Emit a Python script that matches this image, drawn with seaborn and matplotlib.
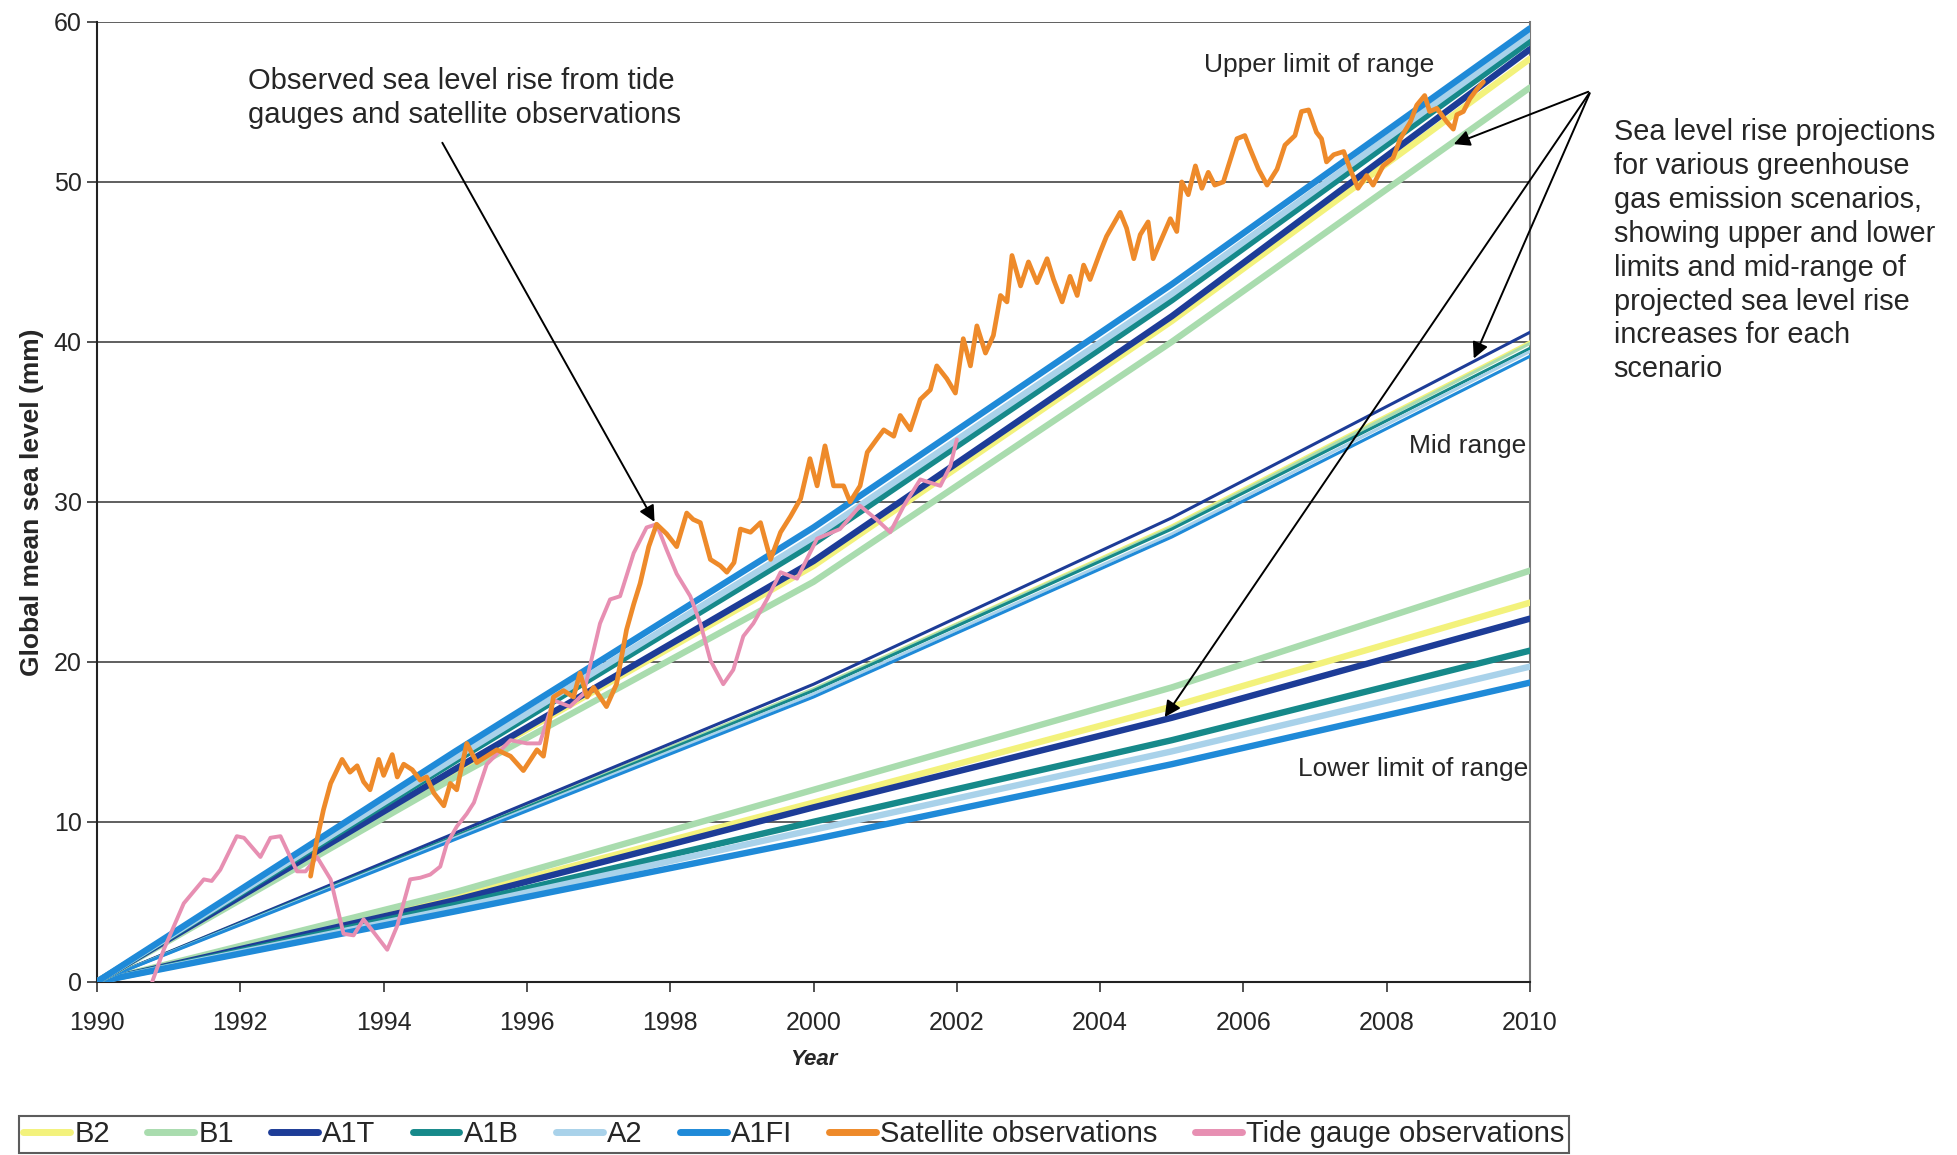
"""
Global mean sea level: observations vs. scenario projections (upper / mid / lower range)
"""

import matplotlib
matplotlib.use("Agg")
import matplotlib.pyplot as plt
from matplotlib.lines import Line2D
import seaborn as sns
import pandas as pd

# ---- projection data (mm), read at 5-year steps ----
proj_years = [1990, 1995, 2000, 2005, 2010]
scenarios = ["B2", "B1", "A1T", "A1B", "A2", "A1FI"]

upper = {
    "B2":   [0, 13.2, 26.0, 41.3, 57.7],
    "B1":   [0, 12.8, 25.0, 40.0, 55.9],
    "A1T":  [0, 13.3, 26.3, 41.6, 58.3],
    "A1B":  [0, 13.8, 27.4, 42.6, 58.8],
    "A2":   [0, 14.0, 27.8, 43.0, 59.2],
    "A1FI": [0, 14.4, 28.4, 43.6, 59.6],
}
mid = {
    "B2":   [0, 9.2, 18.3, 28.5, 40.0],
    "B1":   [0, 9.2, 18.3, 28.4, 39.9],
    "A1T":  [0, 9.3, 18.6, 29.0, 40.6],
    "A1B":  [0, 9.1, 18.2, 28.3, 39.6],
    "A2":   [0, 9.0, 18.0, 28.0, 39.4],
    "A1FI": [0, 8.9, 17.8, 27.8, 39.1],
}
lower = {
    "B2":   [0, 5.3, 11.2, 17.2, 23.7],
    "B1":   [0, 5.6, 12.0, 18.4, 25.7],
    "A1T":  [0, 5.1, 10.9, 16.5, 22.7],
    "A1B":  [0, 4.8, 10.0, 15.1, 20.7],
    "A2":   [0, 4.6, 9.5, 14.4, 19.7],
    "A1FI": [0, 4.4, 8.9, 13.6, 18.7],
}

# ---- satellite observations (mm) ----
sat_years = [
    1992.98, 1993.07, 1993.16, 1993.26, 1993.42, 1993.53, 1993.63, 1993.72, 1993.81, 1993.93,
    1994.00, 1994.12, 1994.19, 1994.28, 1994.40, 1994.51, 1994.60, 1994.70, 1994.84, 1994.93,
    1995.02, 1995.16, 1995.30, 1995.44, 1995.58, 1995.77, 1995.95, 1996.14, 1996.23, 1996.37,
    1996.51, 1996.65, 1996.74, 1996.84, 1996.93, 1997.11, 1997.25, 1997.39, 1997.49, 1997.58,
    1997.70, 1997.81, 1997.95, 1998.09, 1998.23, 1998.32, 1998.42, 1998.56, 1998.70, 1998.79,
    1998.89, 1998.98, 1999.12, 1999.26, 1999.40, 1999.54, 1999.68, 1999.82, 1999.95, 2000.05,
    2000.16, 2000.28, 2000.42, 2000.51, 2000.65, 2000.75, 2000.88, 2000.98, 2001.12, 2001.21,
    2001.35, 2001.49, 2001.63, 2001.72, 2001.86, 2001.98, 2002.09, 2002.19, 2002.28, 2002.40,
    2002.51, 2002.61, 2002.70, 2002.77, 2002.89, 2003.00, 2003.12, 2003.26, 2003.35, 2003.47,
    2003.58, 2003.68, 2003.77, 2003.86, 2004.00, 2004.09, 2004.28, 2004.37, 2004.47, 2004.56,
    2004.67, 2004.74, 2004.84, 2004.98, 2005.07, 2005.14, 2005.23, 2005.33, 2005.42, 2005.51,
    2005.60, 2005.72, 2005.91, 2006.02, 2006.09, 2006.21, 2006.33, 2006.47, 2006.58, 2006.72,
    2006.81, 2006.91, 2007.02, 2007.09, 2007.16, 2007.26, 2007.40, 2007.49, 2007.60, 2007.72,
    2007.81, 2007.95, 2008.09, 2008.19, 2008.33, 2008.42, 2008.53, 2008.60, 2008.70, 2008.84,
    2008.93, 2008.98, 2009.07, 2009.16, 2009.26, 2009.35,
]
sat_values = [
    6.6, 8.9, 10.75, 12.4, 13.9, 13.1, 13.5, 12.5, 12.0, 13.9,
    12.9, 14.2, 12.8, 13.6, 13.25, 12.6, 12.8, 11.8, 11.0, 12.4,
    12.0, 14.9, 13.7, 14.1, 14.5, 14.1, 13.2, 14.5, 14.1, 17.8,
    18.2, 17.8, 19.3, 17.8, 18.4, 17.2, 18.6, 22.0, 23.6, 24.9,
    27.2, 28.6, 28.0, 27.2, 29.3, 28.9, 28.7, 26.4, 26.0, 25.6,
    26.2, 28.3, 28.1, 28.7, 26.4, 28.1, 29.1, 30.2, 32.7, 31.0,
    33.5, 31.0, 31.0, 30.0, 31.0, 33.1, 33.9, 34.5, 34.1, 35.4,
    34.5, 36.4, 37.0, 38.5, 37.7, 36.8, 40.2, 38.5, 41.0, 39.3,
    40.4, 42.9, 42.5, 45.4, 43.5, 45.0, 43.7, 45.2, 43.9, 42.5,
    44.1, 42.9, 44.8, 43.9, 45.6, 46.6, 48.1, 47.1, 45.2, 46.7,
    47.5, 45.2, 46.25, 47.7, 46.9, 50.0, 49.2, 51.0, 49.6, 50.6,
    49.8, 50.0, 52.7, 52.9, 52.1, 50.8, 49.8, 50.8, 52.3, 52.9,
    54.4, 54.5, 53.1, 52.7, 51.25, 51.7, 51.9, 50.8, 49.6, 50.4,
    49.8, 51.0, 51.5, 52.7, 53.75, 54.8, 55.4, 54.4, 54.6, 53.75,
    53.3, 54.2, 54.4, 55.2, 55.8, 56.25,
]

# ---- tide gauge observations (mm) ----
tide_years = [
    1990.77, 1990.93, 1991.21, 1991.49, 1991.60, 1991.72, 1991.95, 1992.05, 1992.28, 1992.42,
    1992.56, 1992.79, 1992.91, 1993.07, 1993.26, 1993.44, 1993.58, 1993.72, 1993.86, 1994.05,
    1994.19, 1994.37, 1994.51, 1994.65, 1994.79, 1994.88, 1995.02, 1995.16, 1995.26, 1995.44,
    1995.77, 1996.00, 1996.18, 1996.37, 1996.60, 1996.79, 1996.93, 1997.02, 1997.16, 1997.30,
    1997.49, 1997.67, 1997.81, 1997.95, 1998.09, 1998.28, 1998.42, 1998.56, 1998.74, 1998.88,
    1999.02, 1999.16, 1999.35, 1999.54, 1999.77, 2000.05, 2000.37, 2000.65, 2000.88, 2001.07,
    2001.26, 2001.49, 2001.77, 2001.91, 2002.00,
]
tide_values = [
    0.0, 2.0, 4.9, 6.4, 6.3, 7.0, 9.1, 9.0, 7.8, 9.0,
    9.1, 6.9, 6.9, 7.8, 6.4, 3.0, 2.9, 3.9, 3.1, 2.0,
    3.5, 6.4, 6.5, 6.7, 7.2, 8.6, 9.7, 10.5, 11.2, 13.6,
    15.1, 14.9, 14.9, 17.6, 17.2, 18.0, 20.7, 22.4, 23.9, 24.1,
    26.8, 28.4, 28.6, 27.0, 25.5, 24.1, 22.4, 20.1, 18.6, 19.5,
    21.6, 22.4, 23.9, 25.6, 25.2, 27.7, 28.3, 29.75, 28.9, 28.1,
    29.75, 31.4, 31.0, 32.25, 33.9,
]

colors = {
    "B2": "#f3f27c",
    "B1": "#a9dcae",
    "A1T": "#1d3c97",
    "A1B": "#16898a",
    "A2": "#a9d2ea",
    "A1FI": "#1f8ad8",
}
sat_color = "#ee8a2a"
tide_color = "#e78fb2"

# long-format table for seaborn
rows = []
for bound, table in [("upper", upper), ("mid", mid), ("lower", lower)]:
    for sc in scenarios:
        for yr, v in zip(proj_years, table[sc]):
            rows.append({"year": yr, "value": v, "scenario": sc, "bound": bound})
proj = pd.DataFrame(rows)
sat = pd.DataFrame({"year": sat_years, "value": sat_values})
tide = pd.DataFrame({"year": tide_years, "value": tide_values})

sns.set_theme(style="white")
plt.rcParams["font.family"] = ["Liberation Sans", "DejaVu Sans"]

fig = plt.figure(figsize=(19.57, 11.55), dpi=100)
ax = fig.add_axes([0.0496, 0.150, 0.7322, 0.831])

# projections: thick upper/lower, thin mid
for bound in ["lower", "mid", "upper"]:
    lw = 2.2 if bound == "mid" else 4.6
    for sc in scenarios:
        sub = proj[(proj["bound"] == bound) & (proj["scenario"] == sc)]
        sns.lineplot(data=sub, x="year", y="value", color=colors[sc], lw=lw,
                     estimator=None, legend=False, ax=ax, zorder=3)

sns.lineplot(data=sat, x="year", y="value", color=sat_color, lw=3.4,
             estimator=None, legend=False, ax=ax, zorder=5)
sns.lineplot(data=tide, x="year", y="value", color=tide_color, lw=2.8,
             estimator=None, legend=False, ax=ax, zorder=4)

ax.set_xlim(1990, 2010)
ax.set_ylim(0, 60)
ax.set_xticks(range(1990, 2011, 2))
ax.set_yticks(range(0, 61, 10))
ax.yaxis.grid(True, color="#444444", lw=1.2, zorder=1)
ax.set_axisbelow(True)
for side in ["left", "bottom"]:
    ax.spines[side].set_color("#222222")
    ax.spines[side].set_linewidth(1.5)
ax.spines["right"].set_color("#777777")
ax.spines["right"].set_linewidth(1.5)
ax.spines["top"].set_visible(False)
ax.tick_params(axis="both", direction="out", length=7, width=1.2, color="#333333",
               labelsize=18, bottom=True, left=True)
ax.tick_params(axis="x", pad=14)
ax.tick_params(axis="y", pad=4)
ax.set_xlabel("Year", fontsize=16, fontweight="bold", fontstyle="italic", labelpad=10)
ax.set_ylabel("Global mean sea level (mm)", fontsize=19, fontweight="bold", labelpad=7)

# annotations
ax.text(1992.1, 57.2, "Observed sea level rise from tide\ngauges and satellite observations",
        fontsize=21, va="top", ha="left", linespacing=1.3)
arrow = dict(arrowstyle="-|>", color="black", lw=1.4, mutation_scale=24)
ax.annotate("", xy=(1997.8, 28.6), xytext=(1994.8, 52.6), arrowprops=arrow)

ax.text(2007.05, 57.3, "Upper limit of range", fontsize=19, ha="center", va="center")
ax.text(2009.95, 33.5, "Mid range", fontsize=19, ha="right", va="center")
ax.text(2009.98, 13.3, "Lower limit of range", fontsize=19, ha="right", va="center")

fig.text(0.8245, 0.898,
         "Sea level rise projections\nfor various greenhouse\ngas emission scenarios,\n"
         "showing upper and lower\nlimits and mid-range of\nprojected sea level rise\n"
         "increases for each\nscenario",
         fontsize=20.8, ha="left", va="top", linespacing=1.27)
tail = (2010.85, 55.7)
for head in [(2008.9, 52.3), (2009.2, 38.8), (2004.88, 16.4)]:
    ax.annotate("", xy=head, xytext=tail, arrowprops=arrow, annotation_clip=False)

# legend
handles = [Line2D([0], [0], color=colors[sc], lw=5) for sc in scenarios]
handles += [Line2D([0], [0], color=sat_color, lw=5), Line2D([0], [0], color=tide_color, lw=5)]
labels = scenarios + ["Satellite observations", "Tide gauge observations"]
leg = fig.legend(handles, labels, loc="lower left", ncol=8, mode="expand",
                 bbox_to_anchor=(0.0097, 0.002, 0.792, 0.043), borderaxespad=0,
                 fontsize=21, handlelength=1.6, handletextpad=0.15, columnspacing=0.3,
                 frameon=True, fancybox=False, edgecolor="#333333", borderpad=0.15)
leg.get_frame().set_linewidth(1.5)

fig.savefig("out.png", dpi=100)
